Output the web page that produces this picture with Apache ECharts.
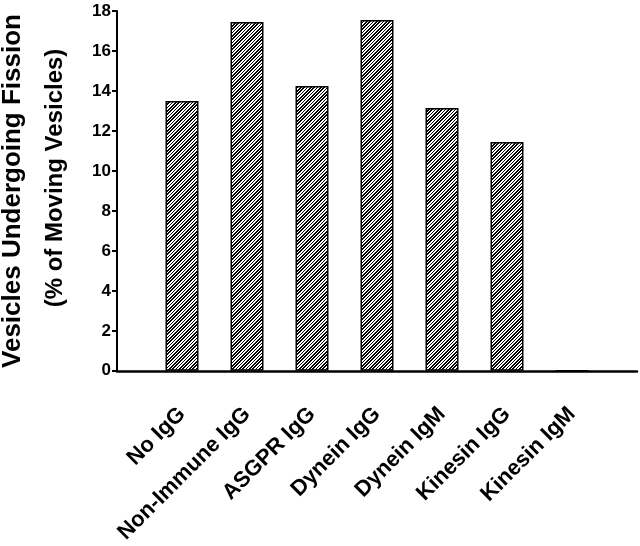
<!DOCTYPE html>
<html>
<head>
<meta charset="utf-8">
<script src="https://cdn.jsdelivr.net/npm/echarts@6/dist/echarts.min.js"></script>
<style>
html,body{margin:0;padding:0;background:#fff;}
#chart{width:640px;height:546px;}
</style>
</head>
<body>
<div id="chart"></div>
<script>
const categories = ["No IgG", "Non-Immune IgG", "ASGPR IgG", "Dynein IgG", "Dynein IgM", "Kinesin IgG", "Kinesin IgM"];
const values = [13.5, 17.45, 14.25, 17.55, 13.15, 11.45, 0];
const yTicks = [0, 2, 4, 6, 8, 10, 12, 14, 16, 18];
const titleLine1 = "Vesicles Undergoing Fission";
const titleLine2 = "(% of Moving Vesicles)";

// crisp diagonal hatch pattern (period ~3.3 px, "/" direction)
const tile = document.createElement('canvas');
tile.width = 10; tile.height = 10;
const ctx = tile.getContext('2d');
const img = ctx.createImageData(10, 10);
for (let y = 0; y < 10; y++) {
  for (let x = 0; x < 10; x++) {
    const k = ((x + y) * 3) % 10;
    const c = k < 5 ? 0 : 255;
    const p = (y * 10 + x) * 4;
    img.data[p] = c; img.data[p + 1] = c; img.data[p + 2] = c; img.data[p + 3] = 255;
  }
}
ctx.putImageData(img, 0, 0);

const chart = echarts.init(document.getElementById('chart'), null, {renderer: 'canvas'});
const font = 'Liberation Sans, Arial, sans-serif';
chart.setOption({
  animation: false,
  backgroundColor: '#fff',
  grid: {left: 117, right: 3, top: 11, bottom: 173, containLabel: false},
  xAxis: {
    type: 'value', min: 0, max: categories.length + 1, interval: 1,
    splitLine: {show: false},
    axisTick: {show: false},
    axisLine: {show: true, onZero: false, lineStyle: {color: '#000', width: 2.5}},
    axisLabel: {
      rotate: 45, margin: 40, color: '#000', fontWeight: 'bold', fontSize: 22, fontFamily: font,
      showMinLabel: true, showMaxLabel: true,
      formatter: v => (v >= 1 && v <= categories.length) ? categories[v - 1] : ''
    }
  },
  yAxis: {
    type: 'value', min: yTicks[0], max: yTicks[yTicks.length - 1], interval: 2,
    splitLine: {show: false},
    axisLine: {show: true, lineStyle: {color: '#000', width: 2}},
    axisTick: {show: true, length: 5, lineStyle: {color: '#000', width: 2}},
    axisLabel: {color: '#000', fontWeight: 'bold', fontSize: 17, fontFamily: font, margin: 6}
  },
  graphic: [
    {type: 'text', x: 13, y: 191, rotation: Math.PI / 2,
     style: {text: titleLine1, fill: '#000', font: 'bold 26px ' + font, textAlign: 'center', textVerticalAlign: 'middle'}},
    {type: 'text', x: 55, y: 178, rotation: Math.PI / 2,
     style: {text: titleLine2, fill: '#000', font: 'bold 24px ' + font, textAlign: 'center', textVerticalAlign: 'middle'}}
  ],
  series: [{
    type: 'bar',
    barWidth: 33,
    data: values.map((v, i) => [i + 1, v]),
    itemStyle: {color: {image: tile, repeat: 'repeat'}, borderColor: '#000', borderWidth: 1.5}
  }]
});
</script>
</body>
</html>
